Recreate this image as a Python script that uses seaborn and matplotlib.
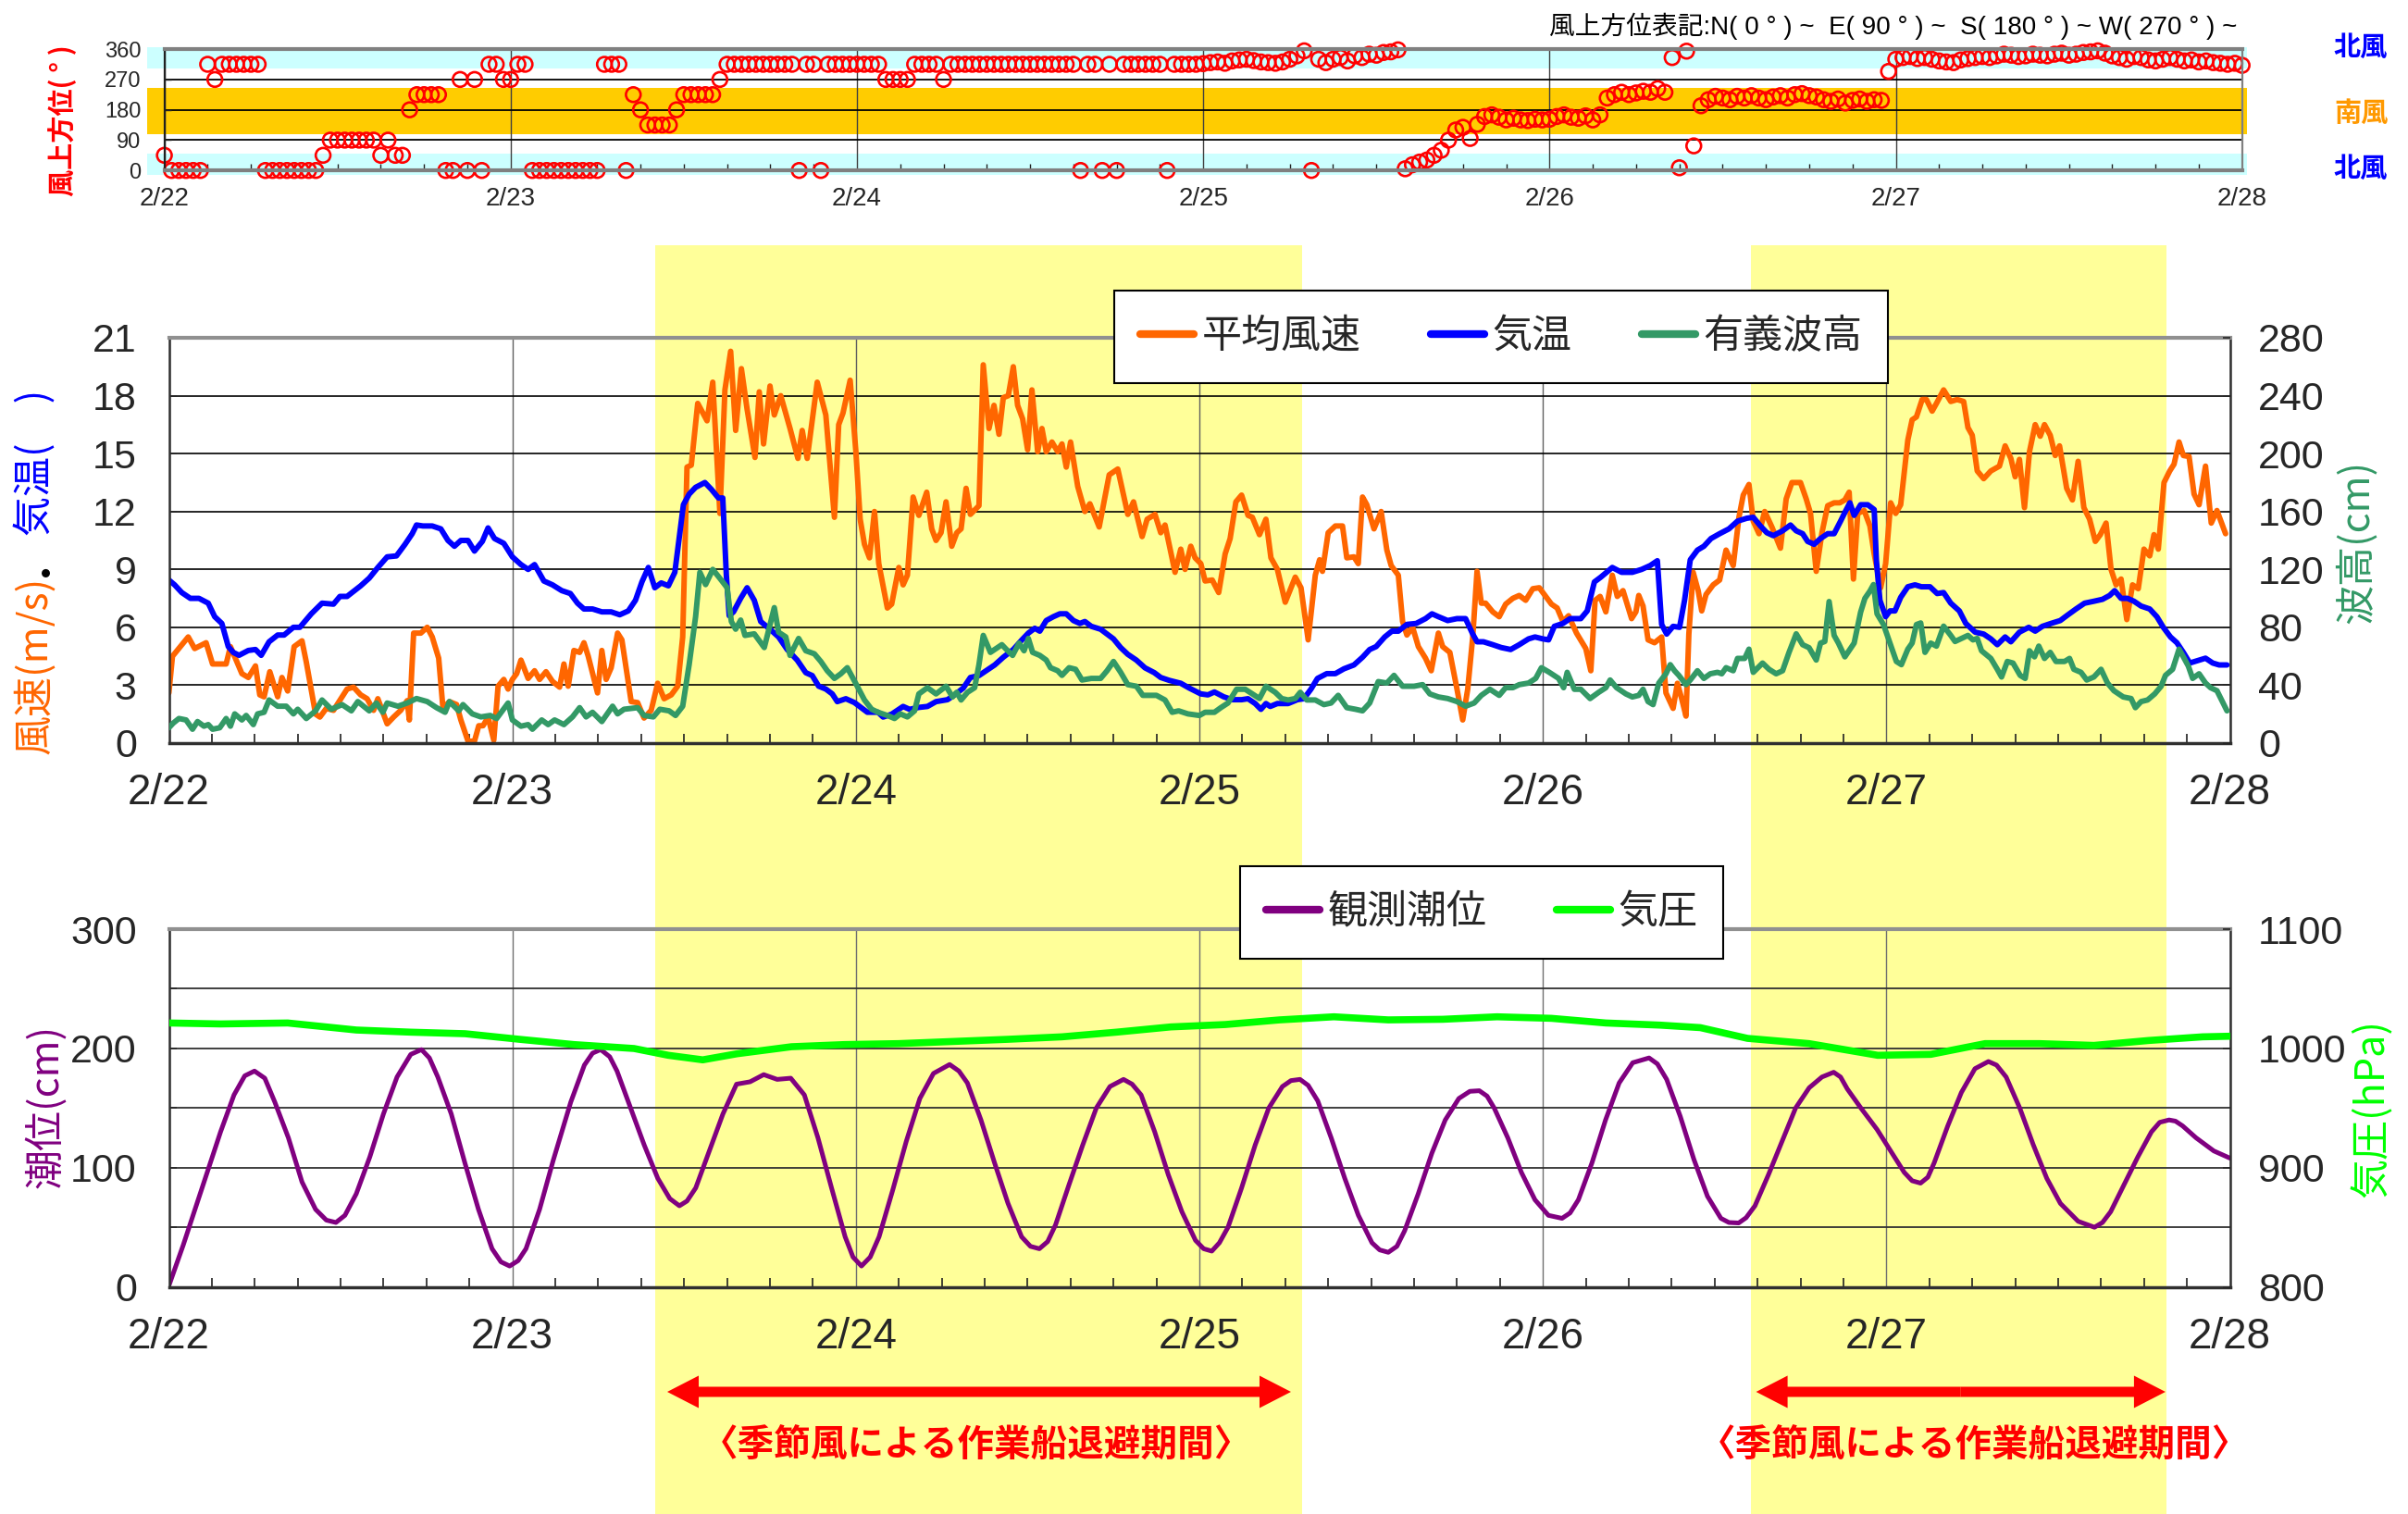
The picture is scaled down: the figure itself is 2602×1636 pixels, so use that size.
import numpy as np
import pandas as pd
import matplotlib
matplotlib.use("Agg")
import matplotlib.pyplot as plt
import matplotlib.transforms as mtransforms
from matplotlib.patches import Rectangle, FancyArrowPatch
from matplotlib import font_manager
import seaborn as sns

# ---------------- data (hours from 2/22 00:00) ----------------
day_labels = ['2/22', '2/23', '2/24', '2/25', '2/26', '2/27', '2/28']

# wind direction (deg), every 30 min from 2/22 00:00
dir_day1 = [45, 0, 0, 0, 0, 0, 315, 270, 315, 315, 315, 315, 315, 315, 0, 0, 0, 0, 0, 0, 0, 0, 45, 90,
            90, 90, 90, 90, 90, 90, 45, 90, 45, 45, 180, 225, 225, 225, 225, 0, 0, 270, 0, 270, 0, 315, 315, 270]
dir_day2 = [270, 315, 315, 0, 0, 0, 0, 0, 0, 0, 0, 0, 0, 315, 315, 315, 0, 225, 180, 135, 135, 135, 135, 180,
            225, 225, 225, 225, 225, 270, 315, 315, 315, 315, 315, 315, 315, 315, 315, 315, 0, 315, 315, 0, 315, 315, 315, 315]
dir_day3 = [315, 315, 315, 315, 270, 270, 270, 270, 315, 315, 315, 315, 270, 315, 315, 315, 315, 315, 315, 315,
            315, 315, 315, 315, 315, 315, 315, 315, 315, 315, 315, 0, 315, 315, 0, 315, 0, 315, 315, 315, 315, 315,
            315, 0, 315, 315, 315, 315]
dir_day4 = [317, 320, 322, 318, 325, 328, 330, 326, 322, 320, 318, 322, 330, 340, 355, 0, 330, 320, 330, 335,
            325, 340, 335, 345, 342, 350, 352, 358, 5, 17, 25, 31, 45, 60, 90, 120, 128, 95, 137, 160, 165, 158,
            150, 155, 150, 148, 152, 150]
dir_day5 = [152, 160, 165, 158, 155, 162, 150, 165, 215, 225, 232, 225, 230, 235, 232, 243, 232, 335, 8, 354,
            73, 192, 210, 220, 215, 210, 220, 215, 222, 215, 210, 218, 222, 215, 225, 228, 222, 218, 210, 205,
            212, 200, 208, 212, 205, 210, 208, 294]
dir_day6 = [330, 335, 338, 332, 335, 330, 325, 322, 320, 328, 332, 335, 338, 335, 340, 345, 342, 338, 340, 345,
            342, 340, 345, 348, 342, 345, 350, 352, 355, 348, 340, 335, 330, 338, 335, 328, 325, 330, 335, 330,
            325, 328, 322, 325, 320, 318, 315, 318, 312]

wind_speed = [  # (hour, m/s)
    (0, 2.6), (0.25, 4.5), (1.35, 5.5), (1.8, 4.9), (2.6, 5.2), (3.05, 4.1), (4.0, 4.1), (4.3, 5.0), (5.1, 3.6),
    (5.55, 3.4), (6.05, 4.0), (6.35, 2.5), (6.65, 2.4), (7.05, 3.7), (7.6, 2.4), (7.9, 3.4), (8.3, 2.7), (8.75, 5.0),
    (9.3, 5.3), (9.6, 4.2), (10.25, 1.5), (10.55, 1.35), (11.0, 1.8), (11.5, 1.7), (12.45, 2.8), (12.9, 2.9),
    (13.4, 2.5), (13.85, 2.3), (14.3, 1.7), (14.6, 2.3), (15.25, 1.0), (15.7, 1.35), (16.2, 1.7), (16.65, 2.2),
    (16.8, 1.2), (17.1, 5.7), (17.6, 5.7), (18.05, 6.0), (18.4, 5.5), (18.85, 4.4), (19.15, 1.8), (19.6, 2.15),
    (20.1, 2.0), (20.4, 1.2), (20.9, 0.1), (21.35, 0.1), (21.65, 0.9), (21.95, 0.9), (22.3, 1.35), (22.7, 0.15),
    (23.0, 2.95), (23.4, 3.3), (23.7, 2.8), (24.0, 3.3), (24.3, 3.6), (24.6, 4.3), (25.1, 3.35), (25.55, 3.75),
    (25.9, 3.3), (26.35, 3.7), (26.8, 3.2), (27.3, 2.9), (27.6, 4.1), (27.9, 2.95), (28.3, 4.8), (28.7, 4.7),
    (29.0, 5.2), (29.3, 4.5), (29.95, 2.6), (30.25, 4.8), (30.55, 3.3), (30.9, 3.9), (31.35, 5.7), (31.65, 5.35),
    (32.3, 2.15), (32.75, 2.1), (33.2, 1.3), (33.7, 1.7), (34.15, 3.1), (34.6, 2.3), (35.1, 2.5), (35.55, 2.95),
    (35.9, 5.5), (36.2, 14.3), (36.5, 14.4), (36.95, 17.6), (37.6, 16.7), (38.0, 18.7), (38.5, 11.9), (38.85, 18.3),
    (39.25, 20.3), (39.6, 16.2), (40.0, 19.4), (40.4, 17.3), (40.95, 14.8), (41.25, 18.2), (41.55, 15.5),
    (42.0, 18.5), (42.3, 17.0), (42.75, 18.0), (43.4, 16.3), (43.95, 14.75), (44.25, 16.2), (44.6, 14.75),
    (45.3, 18.7), (45.9, 17.0), (46.5, 11.7), (46.8, 16.5), (47.1, 17.1), (47.6, 18.8),
    (48.0, 15.1), (48.3, 11.6), (48.6, 10.3), (48.95, 9.6), (49.3, 12.0), (49.6, 9.3), (50.2, 7.0), (50.5, 7.2),
    (51.0, 9.1), (51.3, 8.2), (51.6, 8.7), (52.0, 12.75), (52.4, 11.8), (52.95, 13.0), (53.3, 11.1), (53.6, 10.5),
    (53.95, 10.9), (54.3, 12.5), (54.7, 10.2), (55.05, 10.9), (55.35, 11.1), (55.7, 13.2), (56.0, 11.85),
    (56.6, 12.3), (56.9, 19.6), (57.3, 16.3), (57.65, 17.5), (58.0, 16.0), (58.3, 17.9), (58.65, 18.0),
    (59.0, 19.5), (59.3, 17.5), (59.65, 16.8), (60.0, 15.2), (60.3, 18.3), (60.7, 15.1), (61.0, 16.3),
    (61.3, 15.1), (61.7, 15.6), (62.1, 15.1), (62.4, 15.5), (62.7, 14.3), (63.0, 15.6), (63.5, 13.3),
    (64.0, 12.0), (64.35, 12.4), (65.0, 11.2), (65.7, 13.9), (66.3, 14.2), (67.0, 11.85), (67.4, 12.5),
    (68.0, 10.7), (68.35, 11.6), (68.9, 11.85), (69.3, 10.9), (69.6, 11.3), (70.3, 8.85), (70.7, 10.05),
    (71.0, 9.0), (71.4, 10.2), (71.7, 9.6), (72.1, 9.3), (72.4, 8.4), (72.9, 8.45), (73.35, 7.8), (73.8, 9.8),
    (74.15, 10.6), (74.55, 12.5), (74.95, 12.85), (75.4, 11.8), (75.7, 11.7), (76.2, 10.8), (76.65, 11.6),
    (77.0, 9.6), (77.45, 9.0), (78.0, 7.3), (78.7, 8.6), (79.1, 8.05), (79.6, 5.35), (80.1, 8.7), (80.4, 9.5),
    (80.6, 8.9), (81.0, 10.9), (81.5, 11.25), (82.0, 11.25), (82.3, 9.6), (82.8, 9.65), (83.1, 9.3),
    (83.4, 12.75), (83.7, 12.35), (84.2, 11.1), (84.7, 12.0), (85.1, 10.0), (85.4, 9.2), (85.9, 8.7),
    (86.2, 6.3), (86.5, 5.6), (86.9, 6.0), (87.3, 5.0), (87.8, 4.4), (88.2, 3.75), (88.7, 5.7), (89.0, 5.0),
    (89.5, 4.7), (90.0, 2.8), (90.4, 1.2), (90.75, 2.8), (91.1, 5.5), (91.4, 8.9), (91.7, 7.25), (92.0, 7.25),
    (92.5, 6.8), (92.95, 6.55), (93.4, 7.2), (93.9, 7.5), (94.35, 7.65), (94.8, 7.4), (95.3, 8.0), (95.75, 8.05),
    (96.6, 7.2), (97.0, 7.0), (97.4, 6.3), (97.8, 6.6), (98.35, 5.7), (99.0, 4.9), (99.35, 3.75), (99.65, 7.4),
    (100.0, 7.6), (100.4, 6.8), (100.85, 8.7), (101.2, 7.6), (101.6, 7.9), (102.2, 6.45), (102.5, 6.8),
    (102.7, 7.65), (103.0, 7.1), (103.35, 5.35), (103.8, 5.2), (104.3, 5.5), (104.6, 2.6), (105.1, 1.8),
    (105.4, 3.1), (105.7, 2.3), (106.0, 1.4), (106.2, 5.65), (106.5, 8.85), (106.85, 7.9), (107.1, 6.85),
    (107.4, 7.7), (107.9, 8.2), (108.35, 8.45), (108.8, 10.0), (109.3, 9.2), (109.7, 11.7), (110.0, 12.85),
    (110.4, 13.4), (110.7, 11.5), (111.1, 10.85), (111.5, 12.0), (112.0, 11.2), (112.6, 10.1), (113.0, 12.65),
    (113.4, 13.5), (114.0, 13.5), (114.4, 12.65), (114.7, 11.9), (115.1, 8.9), (115.5, 10.9), (115.9, 12.3),
    (116.35, 12.45), (116.75, 12.45), (117.1, 12.6), (117.4, 13.0), (117.7, 8.5), (118.0, 11.9), (118.45, 12.05),
    (118.85, 11.25), (119.15, 9.8), (119.6, 8.05), (119.95, 9.3), (120.3, 12.45), (120.65, 11.9), (121.0, 12.35),
    (121.5, 15.7), (121.8, 16.75), (122.1, 16.9), (122.5, 17.8), (122.8, 17.8), (123.2, 17.2), (123.5, 17.6),
    (124.0, 18.3), (124.5, 17.7), (124.95, 17.8), (125.4, 17.7), (125.7, 16.35), (126.0, 15.95), (126.35, 14.1),
    (126.8, 13.7), (127.3, 14.1), (127.9, 14.35), (128.3, 15.4), (128.7, 14.75), (129.0, 13.8), (129.3, 14.7),
    (129.65, 12.2), (130.0, 15.1), (130.4, 16.5), (130.75, 15.9), (131.05, 16.5), (131.45, 15.95), (131.8, 14.9),
    (132.1, 15.4), (132.6, 13.2), (133.0, 12.6), (133.4, 14.6), (133.8, 12.2), (134.2, 11.6), (134.6, 10.45),
    (134.95, 10.8), (135.35, 11.4), (135.7, 9.0), (136.05, 8.2), (136.4, 8.5), (136.8, 6.4), (137.2, 8.2),
    (137.6, 8.0), (138.0, 10.05), (138.4, 9.7), (138.7, 10.8), (139.0, 10.05), (139.4, 13.5), (139.8, 14.1),
    (140.1, 14.45), (140.45, 15.6), (140.75, 14.9), (141.15, 14.85), (141.5, 12.9), (141.85, 12.35),
    (142.3, 14.35), (142.7, 11.4), (143.1, 12.05), (143.7, 10.85)]

air_temp = [  # (hour, deg C)
    (0, 8.45), (0.4, 8.2), (0.9, 7.8), (1.5, 7.5), (2.1, 7.5), (2.75, 7.25), (3.2, 6.55), (3.7, 6.2), (4.15, 5.0),
    (4.5, 4.7), (4.9, 4.55), (5.55, 4.8), (6.05, 4.85), (6.45, 4.55), (7.0, 5.25), (7.6, 5.6), (8.05, 5.6),
    (8.7, 6.0), (9.15, 6.0), (9.95, 6.7), (10.7, 7.25), (11.5, 7.2), (11.95, 7.6), (12.45, 7.6), (13.4, 8.15),
    (14.0, 8.55), (14.6, 9.1), (15.25, 9.65), (15.9, 9.7), (16.5, 10.3), (17.0, 10.85), (17.3, 11.3),
    (17.75, 11.25), (18.4, 11.25), (19.0, 11.1), (19.5, 10.5), (19.95, 10.2), (20.4, 10.5), (20.9, 10.5),
    (21.35, 9.95), (21.9, 10.45), (22.3, 11.15), (22.75, 10.6), (23.4, 10.35), (24.0, 9.65), (24.6, 9.25),
    (25.1, 9.0), (25.55, 9.25), (26.2, 8.4), (26.8, 8.2), (27.45, 7.9), (28.05, 7.75), (28.55, 7.25),
    (29.0, 6.95), (29.6, 6.95), (30.25, 6.8), (30.9, 6.8), (31.5, 6.65), (32.1, 6.85), (32.6, 7.4), (33.05, 8.35),
    (33.5, 9.1), (33.95, 8.05), (34.4, 8.3), (34.9, 8.15), (35.35, 8.85), (35.7, 10.9), (35.95, 12.35),
    (36.35, 12.9), (36.8, 13.25), (37.45, 13.5), (37.9, 13.15), (38.4, 12.7), (38.7, 12.7), (38.95, 8.7),
    (39.15, 6.6), (39.45, 6.8), (39.95, 7.5), (40.4, 8.05), (40.9, 7.4), (41.35, 6.3), (42.0, 5.9), (42.6, 5.5),
    (43.2, 4.85), (43.9, 4.3), (44.5, 3.65), (44.95, 3.5), (45.4, 2.95), (45.9, 2.8), (46.35, 2.55), (46.7, 2.15),
    (47.3, 2.3), (47.9, 2.1),
    (48.8, 1.6), (49.55, 1.6), (49.9, 1.35), (50.5, 1.5), (51.3, 1.9), (51.75, 1.75), (52.4, 1.85), (53.0, 1.9),
    (53.6, 2.15), (54.4, 2.25), (54.9, 2.5), (55.5, 2.85), (56.0, 3.4), (56.6, 3.5), (57.1, 3.75), (57.7, 4.05),
    (58.3, 4.45), (59.0, 4.85), (59.6, 5.35), (60.05, 5.7), (60.5, 5.95), (60.85, 5.8), (61.3, 6.35), (61.8, 6.55),
    (62.25, 6.7), (62.7, 6.7), (63.2, 6.35), (63.65, 6.2), (64.0, 6.3), (64.45, 6.05), (65.1, 5.9), (65.55, 5.65),
    (66.0, 5.4), (66.5, 4.95), (67.0, 4.6), (67.6, 4.3), (68.2, 3.9), (68.85, 3.65), (69.3, 3.4), (69.9, 3.25),
    (70.7, 3.1), (71.3, 2.85), (72.1, 2.55), (72.6, 2.5), (73.05, 2.65), (73.7, 2.4), (74.3, 2.25), (74.95, 2.25),
    (75.4, 2.3), (75.9, 2.05), (76.3, 1.75), (76.65, 2.05), (76.95, 1.9), (77.45, 2.05), (78.2, 2.05),
    (78.85, 2.25), (79.3, 2.3), (79.8, 2.8), (80.25, 3.35), (80.9, 3.6), (81.5, 3.6), (82.1, 3.85), (82.8, 4.05),
    (83.4, 4.45), (83.9, 4.85), (84.35, 5.0), (84.95, 5.5), (85.45, 5.8), (85.9, 5.8), (86.5, 6.15), (87.15, 6.2),
    (87.8, 6.45), (88.25, 6.7), (88.7, 6.55), (89.35, 6.35), (90.0, 6.45), (90.6, 6.45), (91.1, 5.65),
    (91.4, 5.25), (91.85, 5.25), (92.5, 5.1), (93.1, 4.95), (93.75, 4.85), (94.35, 5.1), (95.0, 5.4), (95.45, 5.5),
    (96.0, 5.4), (96.4, 5.35), (96.8, 6.05), (97.4, 6.2), (97.9, 6.45), (98.65, 6.45), (99.1, 6.85), (99.6, 8.35),
    (100.05, 8.6), (100.85, 9.1), (101.5, 8.85), (102.25, 8.85), (102.9, 9.0), (103.5, 9.2), (104.0, 9.45),
    (104.3, 6.15), (104.65, 5.65), (105.1, 6.05), (105.55, 6.0), (105.9, 7.4), (106.3, 9.5), (106.8, 10.0),
    (107.25, 10.2), (107.75, 10.6), (108.35, 10.85), (109.0, 11.1), (109.6, 11.5), (110.25, 11.65), (110.7, 11.7),
    (111.2, 11.25), (111.65, 10.9), (112.1, 10.75), (112.75, 11.0), (113.3, 11.3), (113.7, 11.0), (114.15, 10.85),
    (114.5, 10.45), (114.95, 10.3), (115.4, 10.6), (115.9, 10.85), (116.35, 10.85), (116.8, 11.5), (117.1, 11.95),
    (117.45, 12.45), (117.75, 11.8), (118.2, 12.35), (118.7, 12.35), (119.15, 12.1), (119.3, 9.5), (119.55, 7.4),
    (119.95, 6.55), (120.25, 6.85), (120.6, 6.85), (121.0, 7.55), (121.5, 8.1), (122.0, 8.2), (122.45, 8.1),
    (123.05, 8.1), (123.55, 7.75), (124.0, 7.8), (124.5, 7.25), (125.1, 6.85), (125.55, 6.2), (126.2, 5.75),
    (126.8, 5.65), (127.3, 5.4), (127.75, 5.1), (128.3, 5.5), (128.7, 5.25), (129.3, 5.75), (129.95, 6.0),
    (130.4, 5.8), (130.9, 6.05), (131.5, 6.2), (132.15, 6.35), (132.6, 6.6), (133.25, 6.95), (133.85, 7.25),
    (134.5, 7.35), (135.1, 7.45), (135.6, 7.65), (135.95, 7.9), (136.4, 7.5), (136.85, 7.5), (137.3, 7.35),
    (137.8, 7.1), (138.4, 6.95), (138.9, 6.55), (139.35, 6.0), (139.85, 5.5), (140.3, 5.2), (140.75, 4.7),
    (141.2, 4.15), (141.65, 4.25), (142.3, 4.4), (142.8, 4.15), (143.25, 4.05), (143.8, 4.05)]

wave_height = [  # (hour, cm)
    (0, 10.6), (0.3, 13.8), (0.7, 17.0), (1.2, 16.0), (1.65, 9.6), (2.0, 14.9), (2.45, 11.7), (2.75, 12.8),
    (3.05, 9.6), (3.55, 10.6), (4.0, 17.0), (4.3, 11.7), (4.6, 20.2), (5.1, 16.0), (5.4, 19.1), (5.9, 12.8),
    (6.2, 20.2), (6.65, 21.3), (7.0, 29.8), (7.6, 25.5), (8.2, 25.5), (8.7, 20.2), (9.0, 23.4), (9.6, 17.0),
    (10.25, 22.3), (10.7, 29.8), (11.35, 23.4), (12.1, 26.6), (12.75, 22.3), (13.2, 28.7), (14.0, 22.3),
    (14.5, 27.7), (14.95, 21.3), (15.25, 27.7), (16.0, 25.5), (16.65, 27.7), (17.3, 30.8), (18.05, 28.7),
    (18.7, 24.5), (19.3, 21.3), (19.6, 28.7), (20.25, 22.3), (20.55, 26.6), (21.2, 20.2), (21.8, 18.1),
    (22.45, 19.1), (22.9, 17.0), (23.7, 27.7), (24.0, 16.0), (24.6, 11.7), (25.1, 12.8), (25.4, 9.6),
    (26.05, 16.0), (26.5, 12.8), (26.95, 16.0), (27.6, 12.8), (28.2, 18.1), (28.7, 24.5), (29.15, 18.1),
    (29.6, 21.3), (30.25, 14.9), (31.0, 25.5), (31.35, 20.2), (31.8, 23.4), (32.75, 24.5), (33.2, 19.1),
    (33.85, 18.1), (34.3, 23.4), (34.95, 22.3), (35.4, 19.1), (35.9, 25.5), (36.35, 54.2), (36.8, 87.2),
    (37.1, 118), (37.5, 109.5), (38.0, 120), (38.5, 113.8), (39.0, 107.4), (39.3, 84), (39.6, 78.7), (39.95, 85),
    (40.25, 74.4), (40.9, 75.5), (41.6, 66), (42.0, 81.9), (42.3, 93.6), (42.6, 76.6), (43.1, 73.4), (43.4, 60.6),
    (44.0, 72.3), (44.5, 63.8), (45.1, 61.7), (45.55, 56.4), (46.0, 50), (46.5, 44.7), (46.95, 47.9), (47.4, 52.1),
    (48.15, 38.3), (48.6, 29.8), (49.1, 23.4), (49.55, 21.3), (50.2, 19.1), (50.7, 17.0), (51.1, 20.2),
    (51.6, 18.1), (52.1, 22.3), (52.4, 34), (53.0, 38.3), (53.6, 34), (54.3, 39.3), (54.75, 31.9), (55.05, 35.1),
    (55.35, 29.8), (55.8, 35.1), (56.3, 38.3), (56.6, 54.2), (56.9, 74.4), (57.4, 62.7), (58.2, 68), (58.5, 64.9),
    (58.95, 60.6), (59.4, 69.1), (59.75, 63.8), (60.05, 72.3), (60.35, 62.7), (60.85, 60.6), (61.3, 57.4),
    (61.6, 52.1), (62.1, 50), (62.4, 46.8), (62.9, 52.1), (63.35, 51), (63.8, 43.6), (64.45, 44.7), (65.1, 44.7),
    (65.55, 50), (66.0, 56.4), (66.5, 48.9), (67.0, 40.4), (67.6, 39.3), (68.05, 33), (69.0, 33), (69.6, 29.8),
    (70.1, 21.3), (70.55, 22.3), (71.2, 20.2), (72.0, 19.1), (72.4, 21.3), (73.05, 21.3), (73.5, 24.5),
    (74.0, 27.7), (74.6, 37.2), (75.2, 37.2), (75.7, 34), (76.2, 30.8), (76.65, 39.3), (77.3, 35.1),
    (77.75, 30.8), (78.2, 29.8), (78.7, 30.8), (79.05, 35.1), (79.5, 29.8), (80.1, 29.8), (80.7, 26.6),
    (81.2, 27.7), (81.7, 33), (82.3, 24.5), (82.9, 23.4), (83.4, 22.3), (83.9, 27.7), (84.5, 42.5), (85.1, 41.5),
    (85.6, 46.8), (86.2, 39.3), (87.0, 39.3), (87.6, 40.4), (88.1, 34), (88.7, 31.9), (89.35, 30.8), (90.0, 28.7),
    (90.6, 25.5), (91.2, 27.7), (91.7, 33), (92.3, 37.2), (92.95, 33), (93.4, 38.3), (93.9, 38.3), (94.35, 40.4),
    (95.0, 41.5), (95.5, 44.7), (95.9, 52.1),
    (96.45, 48.9), (97.1, 44.7), (97.45, 38.3), (97.7, 48.9), (98.2, 37.2), (98.65, 37.2), (99.3, 30.8),
    (99.9, 35.1), (100.4, 38.3), (100.7, 43.6), (101.15, 38.3), (101.8, 34), (102.25, 31.9), (102.7, 33),
    (103.0, 37.2), (103.35, 28.7), (103.7, 26.6), (104.1, 41.5), (104.6, 47.9), (104.9, 54.2), (105.2, 50),
    (105.5, 46.8), (106.0, 40.4), (106.3, 43.6), (106.8, 50), (107.25, 44.7), (107.7, 47.9), (108.2, 48.9),
    (108.5, 47.9), (108.8, 52.1), (109.3, 50), (109.6, 58.5), (110.1, 58.5), (110.4, 64.9), (110.7, 48.9),
    (111.35, 55.3), (111.8, 51), (112.3, 47.9), (112.75, 50), (113.2, 62.7), (113.7, 75.5), (114.15, 68),
    (114.6, 65.9), (115.1, 57.4), (115.4, 69.1), (115.7, 70.2), (116.0, 97.8), (116.35, 74.4), (116.65, 69.1),
    (117.1, 59.6), (117.75, 69.1), (118.2, 90.4), (118.5, 100), (118.85, 105), (119.1, 109.5), (119.35, 89.3),
    (119.8, 81.9), (120.25, 69.1), (120.7, 56.4), (121.05, 54.2), (121.5, 64.9), (121.8, 69.1), (122.1, 81.9),
    (122.4, 83), (122.7, 62.7), (123.1, 69.1), (123.5, 67), (124.0, 80.8), (124.5, 74.4), (124.8, 70.2),
    (125.25, 72.3), (125.7, 74.4), (126.05, 71.3), (126.35, 72.3), (126.65, 63.8), (127.3, 58.5), (127.75, 51),
    (128.05, 45.7), (128.45, 56.4), (128.85, 55.3), (129.35, 46.8), (129.7, 44.7), (130.0, 63.8), (130.35, 59.6),
    (130.65, 67), (131.05, 58.5), (131.45, 62.7), (131.85, 56.4), (132.45, 56.4), (132.8, 58.5), (133.1, 51),
    (133.6, 48.9), (134.0, 43.6), (134.5, 45.7), (135.0, 51), (135.45, 41.5), (135.9, 36.2), (136.55, 31.9),
    (137.1, 30.8), (137.4, 24.5), (137.8, 28.7), (138.25, 29.8), (138.75, 34), (139.2, 39.3), (139.5, 46.8),
    (140.0, 51), (140.45, 64.9), (140.75, 59.6), (141.1, 53.2), (141.4, 44.7), (141.85, 47.9), (142.3, 41.5),
    (142.65, 38.3), (143.1, 36.2), (143.8, 22.3)]

tide_level = [  # (hour, cm)
    (0.0, 1), (1.0, 35), (2.18, 78), (3.61, 130), (4.55, 161), (5.3, 177), (5.98, 181), (6.7, 175), (7.40, 155),
    (8.35, 125), (9.30, 88), (10.25, 65), (11.0, 56), (11.67, 54), (12.3, 60), (13.09, 78), (14.04, 109),
    (14.99, 145), (15.94, 176), (16.9, 195), (17.65, 199), (18.2, 192), (18.79, 176), (19.73, 145), (20.68, 104),
    (21.63, 65), (22.58, 32), (23.2, 21), (23.81, 17.5), (24.4, 22), (24.95, 32), (25.90, 65), (26.85, 106),
    (28.08, 155), (29.03, 186), (29.6, 196), (30.17, 199), (30.8, 193), (31.31, 181), (32.26, 150), (33.21, 119),
    (34.16, 91), (35.0, 74), (35.67, 68), (36.2, 72), (36.81, 83), (37.76, 114), (38.71, 145), (39.66, 170),
    (40.61, 172), (41.56, 178), (42.50, 174), (43.45, 175), (44.40, 161), (45.35, 125), (46.30, 83), (47.25, 42),
    (47.8, 25), (48.39, 17.5), (49.0, 25), (49.62, 42), (50.57, 81), (51.52, 122), (52.47, 158), (53.42, 179),
    (54.55, 186.5), (55.2, 181), (55.79, 171), (56.74, 140), (57.69, 104), (58.63, 70), (59.58, 42), (60.2, 34),
    (60.82, 32), (61.4, 38), (61.95, 52), (62.90, 86), (63.85, 119), (64.80, 150), (65.75, 168), (66.70, 174),
    (67.3, 170), (67.93, 161), (68.88, 130), (69.83, 94), (70.78, 63), (71.73, 39), (72.3, 32), (72.87, 30),
    (73.4, 37), (74.00, 50), (74.95, 83), (75.90, 119), (76.85, 150), (77.80, 168), (78.4, 173), (79.03, 174),
    (79.6, 169), (80.27, 156), (81.21, 125), (82.16, 91), (83.11, 60), (84.06, 37), (84.6, 31), (85.20, 29),
    (85.8, 34), (86.34, 47), (87.29, 78), (88.24, 112), (89.18, 140), (90.13, 158), (90.9, 164), (91.56, 164.5),
    (92.1, 160), (92.60, 150), (93.55, 125), (94.50, 96), (95.45, 73), (96.39, 60), (97.34, 57.5), (97.9, 62),
    (98.48, 73), (99.43, 104), (100.38, 140), (101.33, 171), (102.28, 188), (103.42, 192), (104.0, 187),
    (104.65, 174), (105.60, 143), (106.55, 107), (107.50, 76), (108.44, 57.5), (109.0, 54), (109.68, 53.6),
    (110.2, 58), (110.82, 68), (111.76, 94), (112.71, 122), (113.66, 150), (114.61, 167), (115.5, 176),
    (116.32, 180), (116.8, 176), (117.27, 166), (118.22, 150), (119.35, 132), (120.30, 114), (121.25, 96),
    (121.8, 89), (122.39, 87), (122.9, 92), (123.34, 104), (124.29, 135), (125.24, 163), (126.19, 183),
    (127.13, 189), (127.7, 186), (128.37, 176), (129.32, 150), (130.27, 119), (131.21, 91), (132.16, 70),
    (133.40, 55), (134.54, 50), (135.1, 54), (135.67, 63), (136.62, 86), (137.57, 109), (138.52, 130),
    (139.1, 138), (139.75, 140), (140.2, 139), (140.70, 135), (141.64, 125), (142.88, 114), (144.0, 108)]

air_pressure = [  # (hour, hPa)
    (0, 1021.3), (3.6, 1020.5), (8.3, 1021.3), (13.1, 1015.4), (16.9, 1013.6), (20.7, 1012.3), (24.5, 1007.6),
    (28.3, 1003.2), (32.5, 999.9), (34.9, 994.2), (37.3, 990.4), (39.7, 995.5), (43.5, 1001.4), (47.2, 1003.2),
    (51.0, 1004.0), (54.8, 1005.8), (58.6, 1007.6), (62.4, 1009.7), (66.2, 1013.6), (70.0, 1018.0),
    (73.8, 1020.0), (77.6, 1023.9), (81.4, 1026.5), (85.2, 1023.9), (89.0, 1024.4), (92.8, 1026.5),
    (96.6, 1025.2), (100.4, 1021.3), (104.2, 1019.5), (107.0, 1017.4), (110.3, 1008.4), (114.6, 1004.0),
    (117.5, 998.1), (119.4, 994.2), (123.1, 995.0), (126.9, 1004.0), (130.7, 1004.0), (134.5, 1002.5),
    (138.3, 1006.6), (142.1, 1009.7), (144.0, 1010.2)]

evac_periods = [(34.0, 79.15), (110.55, 139.6)]
evac_label = '〈季節風による作業船退避期間〉'

# ---------------- style ----------------
sns.set_theme(style='white')
names = {f.name for f in font_manager.fontManager.ttflist}
NUM = 'Liberation Sans' if 'Liberation Sans' in names else 'DejaVu Sans'
NARROW = 'Liberation Sans Narrow' if 'Liberation Sans Narrow' in names else NUM
JP = 'Noto Sans CJK JP'
plt.rcParams['font.family'] = [NUM, JP, 'DejaVu Sans']
plt.rcParams['axes.unicode_minus'] = False

ORANGE = '#FF6600'
BLUE = '#0000FF'
WGREEN = '#339966'
PURPLE = '#800080'
LIME = '#00FF00'
YELLOW = '#FFFF99'
CYAN = '#CCFFFF'
GOLD = '#FFCC00'

W, H = 2602, 1636
fig = plt.figure(figsize=(W / 100, H / 100), dpi=100)
fig.patch.set_facecolor('white')


def fx(px):
    return px / W


def fy(py):
    return 1 - py / H


ax_top = fig.add_axes([fx(177.6), fy(184.2), (2422.7 - 177.6) / W, (184.2 - 53.1) / H])
ax_mid = fig.add_axes([fx(182.5), fy(803), (2409.5 - 182.5) / W, (803 - 365) / H])
ax_bot = fig.add_axes([fx(182.5), fy(1390.6), (2409.5 - 182.5) / W, (1390.6 - 1004) / H])
ax_mid.patch.set_visible(False)
ax_bot.patch.set_visible(False)

day_ticks = [24 * i for i in range(len(day_labels))]
minor_ticks = [3 * i for i in range(49)]

# ---------------- yellow evacuation bands (behind the two lower panels) ----------------
blend_fig = mtransforms.blended_transform_factory(ax_mid.transData, fig.transFigure)
for t0, t1 in evac_periods:
    fig.add_artist(Rectangle((t0, 0), t1 - t0, fy(265), transform=blend_fig,
                             facecolor=YELLOW, edgecolor='none', zorder=-1))

# ---------------- top panel: wind direction ----------------
dir_vals = dir_day1 + dir_day2 + dir_day3 + dir_day4 + dir_day5 + dir_day6
dir_df = pd.DataFrame({'hour': np.arange(len(dir_vals)) * 0.5, 'deg': dir_vals})
ax_top.set_xlim(0, 144)
ax_top.set_ylim(0, 360)
bt = mtransforms.blended_transform_factory(ax_top.transAxes, ax_top.transData)
for y0, y1, c in [(-12, 50, CYAN), (303, 367, CYAN), (108, 246, GOLD)]:
    ax_top.add_patch(Rectangle((-0.0083, y0), 1.0107, y1 - y0, transform=bt, facecolor=c,
                               edgecolor='none', clip_on=False, zorder=0))
sns.scatterplot(data=dir_df, x='hour', y='deg', ax=ax_top, marker='o', s=130,
                facecolor='none', edgecolor='#FF0000', linewidth=1.9, zorder=3, clip_on=False, legend=False)
dir_points = ax_top.collections[-1]
dir_points.set_sizes([130])
dir_points.set_linewidths([1.9])
dir_points.set_facecolor('none')
dir_points.set_edgecolor('#FF0000')
ax_top.set_yticks([0, 90, 180, 270, 360])
ax_top.set_yticklabels(['0', '90', '180', '270', '360'])
ax_top.set_xticks(day_ticks)
ax_top.set_xticklabels(day_labels)
ax_top.set_xticks(minor_ticks, minor=True)
ax_top.set_axisbelow(True)
ax_top.grid(axis='y', color='#000000', lw=1.3)
ax_top.grid(axis='x', which='major', color='#404040', lw=1.0)
ax_top.tick_params(axis='x', which='major', length=0, labelsize=20, pad=13)
ax_top.tick_params(axis='x', which='minor', direction='in', length=5, width=1.0, color='#202020', bottom=True)
ax_top.tick_params(axis='y', direction='in', length=5, width=1.0, labelsize=17, pad=18, left=True)
ax_top.set_xlabel('')
ax_top.set_ylabel('')
for side, c, lw in [('top', '#808080', 3), ('bottom', '#808080', 3), ('left', '#202020', 1.6), ('right', '#808080', 1.6)]:
    ax_top.spines[side].set_color(c)
    ax_top.spines[side].set_linewidth(lw)
    ax_top.spines[side].set_zorder(4)

# ---------------- middle panel ----------------
wind_df = pd.DataFrame(wind_speed, columns=['hour', 'v'])
temp_df = pd.DataFrame(air_temp, columns=['hour', 'v'])
wave_df = pd.DataFrame(wave_height, columns=['hour', 'v'])
ax_mid2 = ax_mid.twinx()
sns.lineplot(data=wind_df, x='hour', y='v', ax=ax_mid, color=ORANGE, lw=4.3, estimator=None, sort=False,
             label='平均風速', legend=False)
sns.lineplot(data=temp_df, x='hour', y='v', ax=ax_mid, color=BLUE, lw=4.3, estimator=None, sort=False,
             label='気温', legend=False)
sns.lineplot(data=wave_df, x='hour', y='v', ax=ax_mid2, color=WGREEN, lw=4.3, estimator=None, sort=False,
             label='有義波高', legend=False)
ax_mid.set_xlim(0, 144)
ax_mid.set_ylim(0, 21)
ax_mid2.set_ylim(0, 280)
ax_mid.set_yticks(list(range(0, 22, 3)))
ax_mid2.set_yticks(list(range(0, 281, 40)))
ax_mid.set_xticks(day_ticks)
ax_mid.set_xticklabels(day_labels)
ax_mid.set_xticks(minor_ticks, minor=True)
ax_mid.set_axisbelow(True)
ax_mid.grid(axis='y', color='#000000', lw=1.2)
ax_mid.grid(axis='x', which='major', color='#606060', lw=1.0)
ax_mid.tick_params(axis='x', which='major', length=0, labelsize=33, pad=23)
ax_mid.tick_params(axis='x', which='minor', direction='in', length=7, width=1.2, color='#202020', bottom=True)
ax_mid.tick_params(axis='y', direction='in', length=6, width=1.2, labelsize=31, pad=25, left=True)
ax_mid2.tick_params(axis='y', direction='in', length=6, width=1.2, labelsize=31, pad=22, right=True)
for a in (ax_mid, ax_mid2):
    a.set_xlabel('')
    a.set_ylabel('')
for s in ax_mid2.spines.values():
    s.set_visible(False)
for side, c, lw in [('top', '#909090', 3), ('bottom', '#303030', 2.5), ('left', '#303030', 1.8), ('right', '#303030', 1.8)]:
    ax_mid.spines[side].set_color(c)
    ax_mid.spines[side].set_linewidth(lw)

h_mid = ax_mid.get_lines() + ax_mid2.get_lines()
leg1 = ax_mid2.legend(handles=h_mid, labels=['平均風速', '気温', '有義波高'], loc='center', ncol=3,
                      bbox_to_anchor=(fx(1622), fy(364)), bbox_transform=fig.transFigure,
                      prop={'family': JP, 'size': 31}, frameon=True, fancybox=False, shadow=False,
                      framealpha=1, edgecolor='#000000', handlelength=1.35, handletextpad=0.2,
                      columnspacing=1.75, borderpad=0.65)
leg1.get_frame().set_linewidth(1.5)
for ln in leg1.get_lines():
    ln.set_linewidth(6)

# ---------------- bottom panel ----------------
tide_df = pd.DataFrame(tide_level, columns=['hour', 'v'])
pres_df = pd.DataFrame(air_pressure, columns=['hour', 'v'])
ax_bot2 = ax_bot.twinx()
sns.lineplot(data=tide_df, x='hour', y='v', ax=ax_bot, color=PURPLE, lw=3.6, estimator=None, sort=False,
             label='観測潮位', legend=False)
sns.lineplot(data=pres_df, x='hour', y='v', ax=ax_bot2, color=LIME, lw=5.5, estimator=None, sort=False,
             label='気圧', legend=False)
ax_bot.set_xlim(0, 144)
ax_bot.set_ylim(0, 300)
ax_bot2.set_ylim(800, 1100)
ax_bot.set_yticks(list(range(0, 301, 50)))
ax_bot.set_yticklabels(['0', '', '100', '', '200', '', '300'])
ax_bot2.set_yticks([800, 900, 1000, 1100])
ax_bot.set_xticks(day_ticks)
ax_bot.set_xticklabels(day_labels)
ax_bot.set_xticks(minor_ticks, minor=True)
ax_bot.set_axisbelow(True)
ax_bot.grid(axis='y', color='#303030', lw=1.3)
ax_bot.grid(axis='x', which='major', color='#707070', lw=1.0)
ax_bot.tick_params(axis='x', which='major', length=0, labelsize=33, pad=23)
ax_bot.tick_params(axis='x', which='minor', direction='in', length=7, width=1.2, color='#202020', bottom=True)
ax_bot.tick_params(axis='y', direction='in', length=6, width=1.2, labelsize=31, pad=25, left=True)
ax_bot2.tick_params(axis='y', direction='in', length=6, width=1.2, labelsize=31, pad=22, right=True)
for a in (ax_bot, ax_bot2):
    a.set_xlabel('')
    a.set_ylabel('')
for s in ax_bot2.spines.values():
    s.set_visible(False)
for side, c, lw in [('top', '#909090', 3), ('bottom', '#303030', 2.5), ('left', '#303030', 1.8), ('right', '#303030', 1.8)]:
    ax_bot.spines[side].set_color(c)
    ax_bot.spines[side].set_linewidth(lw)

h_bot = ax_bot.get_lines() + ax_bot2.get_lines()
leg2 = ax_bot2.legend(handles=h_bot, labels=['観測潮位', '気圧'], loc='center', ncol=2,
                      bbox_to_anchor=(fx(1601), fy(986)), bbox_transform=fig.transFigure,
                      prop={'family': JP, 'size': 31}, frameon=True, fancybox=False, shadow=False,
                      framealpha=1, edgecolor='#000000', handlelength=1.35, handletextpad=0.2,
                      columnspacing=1.75, borderpad=0.65)
leg2.get_frame().set_linewidth(1.5)
for ln in leg2.get_lines():
    ln.set_linewidth(6)

# ---------------- arrows and period labels ----------------
blend_bot = mtransforms.blended_transform_factory(ax_bot.transData, fig.transFigure)
arrow_spans = [(34.82, 78.4), (110.9, 139.5)]
text_centers = [56.4, 126.1]
for (a0, a1), tc in zip(arrow_spans, text_centers):
    mid = (a0 + a1) / 2
    for end in (a0, a1):
        arr = FancyArrowPatch((mid, fy(1504)), (end, fy(1504)), transform=blend_bot,
                              arrowstyle='simple,head_length=0.68,head_width=0.7,tail_width=0.22',
                              mutation_scale=36, color='#FF0000', lw=0, shrinkA=0, shrinkB=0, zorder=5)
        fig.add_artist(arr)
    fig.text(tc, fy(1562), evac_label, transform=blend_bot, ha='center', va='center',
             color='#FF0000', fontsize=28.5, fontweight='bold', family=[JP])

# ---------------- labels ----------------
r = fig.canvas.get_renderer()

title = fig.text(fx(2417), fy(28), '風上方位表記:N( 0 ° ) ~  E( 90 ° ) ~  S( 180 ° ) ~ W( 270 ° ) ~',
                 ha='right', va='center', fontsize=20, family=[NARROW, JP], color='#000000')
w0 = title.get_window_extent(r).width
title.set_fontsize(20 * 742 / w0)

for txt, yy, c in [('北風', 51, BLUE), ('南風', 122, '#FF9900'), ('北風', 182, BLUE)]:
    fig.text(fx(2551), fy(yy), txt, ha='center', va='center', fontsize=21, fontweight='bold',
             color=c, family=[JP])


def vertical_chain(x_px, yc_px, pieces, size, weight='normal'):
    texts = []
    for s, c in pieces:
        t = fig.text(fx(x_px), 0.5, s, rotation=90, color=c, ha='center', va='bottom',
                     fontsize=size, fontweight=weight, family=[JP, 'DejaVu Sans'])
        texts.append(t)
    hs = [t.get_window_extent(r).height for t in texts]
    cur = (H - yc_px) - sum(hs) / 2
    for t, hh in zip(texts, hs):
        t.set_y(cur / H)
        cur += hh


vertical_chain(68, 130, [('風上方位( ° )', '#FF0000')], 21, 'bold')
vertical_chain(38, 618, [('風速(m/s)', ORANGE), ('・', '#000000'), ('気温(　)', BLUE)], 31)
vertical_chain(2547, 585, [('波高(cm)', WGREEN)], 31)
vertical_chain(50, 1195, [('潮位(cm)', PURPLE)], 31)
vertical_chain(2562, 1198, [('気圧(hPa)', LIME)], 31)

fig.savefig('out.png', dpi=100, facecolor='white')
